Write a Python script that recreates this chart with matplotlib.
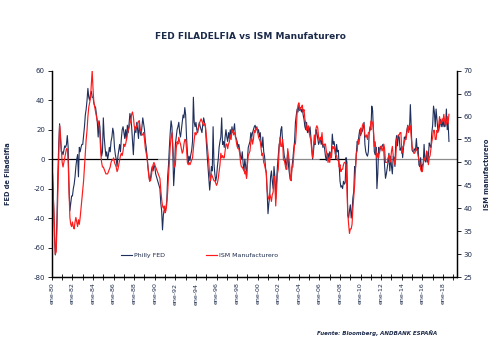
import numpy as np
import matplotlib
matplotlib.use("Agg")
import matplotlib.pyplot as plt

plt.rcParams["axes.unicode_minus"] = False

# monthly values, ene-1980 .. ago-2018
philly = [
    -2, -12, -30, -52, -65, -60, -38, -10, 10, 24, 15, 5,        # 1980
    5, 3, 6, 9, 8, 10, 16, 8, -20, -35, -30, -25,                # 1981
    -25, -20, -17, -12, -5, 0, 3, -12, 8, 5, 8, 10,              # 1982
    10, 16, 22, 30, 34, 40, 48, 42, 40, 44, 46, 42,              # 1983
    42, 38, 36, 35, 30, 25, 15, 26, 22, 10, 2, 5,                # 1984
    28, 15, 8, 2, 5, 0, 3, 8, 5, 12, 15, 21,                     # 1985
    18, 8, 3, 0, -5, 2, 6, 10, 5, 14, 20, 22,                    # 1986
    18, 14, 20, 13, 23, 18, 24, 31, 28, 22, 12, 3,               # 1987
    15, 22, 18, 25, 20, 14, 26, 18, 16, 22, 28, 24,              # 1988
    20, 12, 8, 2, -5, -10, -15, -13, -8, -5, -8, -4,             # 1989
    -5, -10, -12, -14, -16, -18, -20, -30, -35, -48, -38, -34,   # 1990
    -35, -33, -28, -12, -4, 8, 18, 26, 22, 5, -18, -8,           # 1991
    10, 15, 20, 22, 25, 18, 15, 20, 25, 30, 28, 35,              # 1992
    30, 15, 5, -3, 2, -1, 3, 6, 12, 42, 25, 22,                  # 1993
    25, 20, 18, 22, 25, 22, 20, 18, 24, 28, 25, 22,              # 1994
    12, 3, -5, -12, -21, -14, -5, -8, 22, -3, -10, -15,          # 1995
    -12, -5, 0, 8, 12, 15, 28, 10, 12, 8, 15, 20,                # 1996
    15, 12, 18, 14, 20, 16, 22, 18, 20, 24, 15, 14,              # 1997
    12, 8, 10, 6, 2, 0, 5, -3, -8, 0, -5, -12,                   # 1998
    0, 8, 10, 12, 18, 15, 18, 20, 22, 23, 20, 22,                # 1999
    18, 20, 15, 18, 10, 8, 15, 5, 2, -5, -10, -22,               # 2000
    -37, -30, -25, -12, -8, -15, -20, -5, -12, -27, -15, -5,     # 2001
    3, 10, 12, 20, 22, 12, 8, 2, 0, -5, -2, 5,                   # 2002
    -5, -10, -14, -12, -5, 0, 7, 12, 25, 30, 34, 32,             # 2003
    37, 33, 35, 32, 34, 30, 27, 22, 20, 25, 18, 22,              # 2004
    18, 22, 15, 8, 0, 5, 12, 10, 20, 18, 14, 10,                 # 2005
    12, 14, 10, 13, 8, 10, 7, 2, -1, 3, 4, 0,                    # 2006
    5, 2, 5, 17, 10, 12, 8, 0, 10, 5, 6, -5,                     # 2007
    -15, -19, -18, -20, -15, -17, -16, 1, -2, -38, -40, -35,     # 2008
    -31, -40, -35, -26, -22, -5, -6, 4, 12, 10, 16, 20,          # 2009
    16, 18, 19, 22, 25, 10, 5, 3, 2, 5, 18, 22,                  # 2010
    20, 36, 33, 18, 5, 3, 8, -20, -10, 8, 4, 8,                  # 2011
    7, 9, 10, 7, -5, -13, -10, -6, -2, 4, -8, 2,                 # 2012
    -5, -10, 2, 1, -5, 12, 16, 9, 16, 15, 6, 7,                  # 2013
    9, 1, 8, 15, 14, 16, 20, 23, 20, 20, 37, 22,                 # 2014
    6, 5, 5, 7, 6, 14, 6, 8, -4, -5, 1, -8,                      # 2015
    -4, -3, 10, -1, -2, 4, -2, 2, 11, 9, 8, 18,                  # 2016
    23, 36, 32, 22, 34, 27, 20, 19, 23, 27, 22, 26,              # 2017
    22, 26, 22, 23, 34, 20, 25, 12,                              # 2018
]

ism = [
    48, 45, 41, 36, 30, 30.5, 36, 44, 51, 58, 56, 53,                      # 1980
    50, 49, 50, 51, 52, 53, 53, 50, 44, 38, 36.5, 36,                      # 1981
    37, 36, 35.5, 37, 38, 37, 36, 37.5, 36.5, 38, 40, 42,                  # 1982
    44, 46, 49, 52, 55, 57, 60, 62, 63, 64, 67, 70,                        # 1983
    66, 63, 62, 61, 60, 59, 59, 58, 56, 52, 50, 49,                        # 1984
    49, 48.5, 48, 47.5, 47.5, 47.5, 48, 48.5, 49, 50, 50.5, 50.5,          # 1985
    51, 50, 49.5, 49, 48, 48.5, 49.5, 50.5, 51.5, 52, 51.5, 52.5,          # 1986
    54, 53.5, 54, 55, 56, 57, 57.5, 58.5, 59, 60.5, 61, 60,                # 1987
    58, 57, 57.5, 58, 58.5, 59, 59, 57, 57, 56, 56, 56.5,                  # 1988
    55, 53, 52, 51, 49, 47, 46, 46, 47, 48.5, 49.5, 50,                    # 1989
    49.5, 49, 48.5, 48, 47.5, 47, 46.5, 44, 42, 40.5, 40, 40.5,            # 1990
    39, 39.5, 41, 43.5, 47, 50, 53.5, 55.5, 56.5, 54, 50.5, 49,            # 1991
    49.5, 53, 54.5, 54, 55.5, 54.5, 54, 53, 52, 52.5, 54, 55,              # 1992
    55, 53, 50, 49.5, 50, 49.5, 50, 50.5, 51, 53, 55, 56.5,                # 1993
    56, 56.5, 57, 57.5, 58.5, 59, 59.5, 59, 58.5, 58, 58.5, 58,            # 1994
    56, 54, 52, 50, 47, 46, 47.5, 47, 46.5, 46, 46, 45.5,                  # 1995
    45, 45.5, 46.5, 48, 49.5, 52, 51, 51.5, 51, 51, 52.5, 54,              # 1996
    54, 53, 54, 54.5, 56, 55, 57, 57, 56, 56.5, 56, 54.5,                  # 1997
    53.5, 53, 53, 52, 50, 49, 49, 48.5, 48.5, 47.5, 48, 46.5,              # 1998
    49.5, 51.5, 52, 52.5, 54.5, 55.5, 54, 55, 57, 56.5, 57.5, 57.5,        # 1999
    56.5, 55.5, 55, 54.5, 53, 51.5, 52, 50, 49.5, 48.5, 48, 44,            # 2000
    42.5, 42, 43, 42.5, 41.5, 43, 43.5, 47, 46, 40.5, 44, 47.5,            # 2001
    48.5, 53, 55.5, 53.5, 53.5, 55, 50.5, 50.5, 49.5, 48.5, 48.5, 53,      # 2002
    51.5, 50, 46.5, 46, 49, 49, 51.5, 54, 54, 57, 61, 62.5,                # 2003
    63, 61.5, 62, 62, 62.5, 61, 61.5, 59.5, 58.5, 57, 57.5, 58,            # 2004
    56.5, 55.5, 55, 52.5, 51, 53.5, 56, 54, 57.5, 58, 57.5, 55.5,          # 2005
    54.5, 55.5, 55, 56.5, 54, 53.5, 54, 54, 52.5, 51.5, 50, 51,            # 2006
    50, 52, 51, 53.5, 53, 53.5, 52.5, 51.5, 51.5, 50.5, 50.5, 49,          # 2007
    49.5, 48, 48.5, 48.5, 49.5, 50, 50, 49.5, 44, 39, 36.5, 34.5,          # 2008
    35.5, 35.5, 36.5, 40, 42.5, 45, 48.5, 52, 52.5, 55, 54, 55.5,          # 2009
    57.5, 56.5, 58, 58.5, 58, 56, 55.5, 56, 55, 56.5, 56.5, 57,            # 2010
    59, 59, 58.5, 57, 53.5, 54.5, 52, 51, 52, 51, 52.5, 53.5,              # 2011
    53.5, 52.5, 53, 54, 53, 50, 50, 50, 51, 51.5, 50, 50.5,                # 2012
    52.5, 53.5, 51.5, 51, 49.5, 51, 55, 55.5, 56, 56, 56.5, 56.5,          # 2013
    52, 53, 53.5, 54.5, 55, 55, 56.5, 58, 56.5, 58, 58, 55.5,              # 2014
    53.5, 53, 52, 52, 52.5, 53, 52.5, 51.5, 50.5, 50, 48.5, 48,            # 2015
    48, 49.5, 51, 50.5, 51, 52.5, 52, 49.5, 51, 51.5, 53, 54.5,            # 2016
    55.5, 57, 57, 55, 55, 57, 56.5, 58, 60, 58.5, 58.5, 59.5,              # 2017
    59, 60.5, 59, 58, 58.5, 60, 58.5, 60.5,                                # 2018
]

t = 1980 + np.arange(len(philly)) / 12.0
navy = "#1f2f5c"
txt = "#1c2a4a"

fig = plt.figure(figsize=(4.94, 3.45), dpi=100)
ax = fig.add_axes([0.105, 0.197, 0.82, 0.598])
ax2 = ax.twinx()

# zero line (black / grey pieces like the original)
ax.hlines(0, 1980, 1990.3, color="black", lw=0.9, zorder=1)
ax.hlines(0, 1990.3, 2006.0, color="#8c8c8c", lw=0.9, zorder=1)
ax.hlines(0, 2006.0, 2008.7, color="black", lw=0.9, zorder=1)
ax.hlines(0, 2008.7, 2019.36, color="#8c8c8c", lw=0.9, zorder=1)

l1, = ax.plot(t, philly, color=navy, lw=0.8, label="Philly FED", zorder=3)
l2, = ax2.plot(t, ism, color="#ff1a1a", lw=0.85, label="ISM Manufacturero", zorder=2)

ax.set_xlim(1980, 2019.36)
ax.set_ylim(-80, 60)
ax2.set_ylim(25, 70)
ax.set_yticks(np.arange(-80, 61, 20))
ax2.set_yticks(np.arange(25, 71, 5))

years = np.arange(1980, 2020)
ax.set_xticks(years)
ax.set_xticklabels(["ene-%02d" % (y % 100) if (y - 1980) % 2 == 0 else "" for y in years],
                   rotation=90, fontsize=4.5, color=txt)
ax.tick_params(axis="x", direction="inout", length=4, width=0.6, pad=2)
ax.tick_params(axis="y", direction="out", length=3, width=0.6, labelsize=5, labelcolor=txt, pad=2)
ax2.tick_params(axis="y", direction="out", length=3, width=0.6, labelsize=5, labelcolor=txt, pad=2)

for a in (ax, ax2):
    a.spines["top"].set_visible(False)
    for s in ("left", "right", "bottom"):
        a.spines[s].set_linewidth(0.9)
        a.spines[s].set_color("black")

ax.set_ylabel("FED de Filadelfia", fontsize=4.8, fontweight="bold", color=txt, labelpad=16)
ax2.set_ylabel("ISM manufacturero", fontsize=4.8, fontweight="bold", color=txt, labelpad=8)

ax2.legend(handles=[l1, l2], loc="center", bbox_to_anchor=(0.365, 0.103), ncol=2,
           frameon=False, fontsize=4.5, handlelength=1.8, handletextpad=0.3,
           columnspacing=6.5, labelcolor=txt)

fig.text(0.506, 0.893, "FED FILADELFIA vs ISM Manufaturero", ha="center", va="center",
         fontsize=6.5, fontweight="bold", color=txt)
fig.text(0.885, 0.035, "Fuente: Bloomberg, ANDBANK ESPAÑA", ha="right", va="center",
         fontsize=4, fontweight="bold", style="italic", color=txt)

fig.savefig("out.png", dpi=100)
